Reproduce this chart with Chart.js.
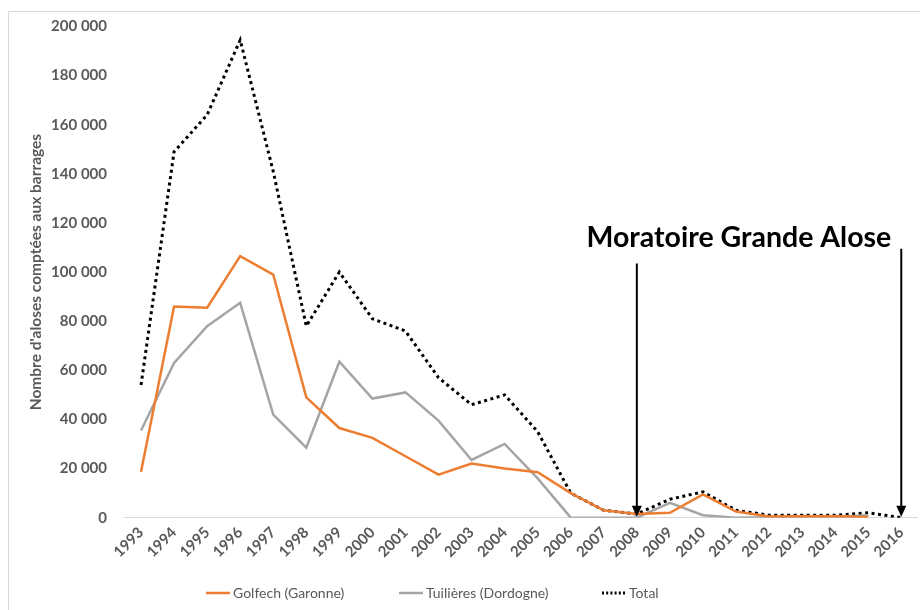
<!DOCTYPE html>
<html><head><meta charset="utf-8">
<script src="https://cdn.jsdelivr.net/npm/chart.js@4/dist/chart.umd.min.js"></script>
<style>
html,body{margin:0;padding:0;background:#fff;}
#wrap{position:absolute;left:0;top:0;width:920px;height:610px;}
#frame{position:absolute;left:8px;top:11px;width:920px;height:610px;border:1px solid #d9d9d9;box-sizing:border-box;}
</style></head>
<body>
<div id="frame"></div>
<div id="wrap"><canvas id="c" width="920" height="610"></canvas></div>
<script>
const years = ['1993','1994','1995','1996','1997','1998','1999','2000','2001','2002','2003','2004','2005','2006','2007','2008','2009','2010','2011','2012','2013','2014','2015','2016'];
const golfech = [18700,86000,85500,106500,99000,49000,36500,32500,25000,17500,22000,20000,18500,10000,3000,1500,2000,9500,2500,500,600,600,300,null];
const tuilieres = [35500,63000,78000,87500,42000,28500,63500,48500,51000,39500,23500,30000,16000,0,0,0,6000,1000,0,200,300,300,1000,null];
const total = [54000,149000,164000,194500,141000,78000,100000,81000,76000,57000,46000,50000,35000,10000,3000,1500,7500,10500,3000,1000,1000,1000,2000,0];
const seriesNames = ['Golfech (Garonne)','Tuilières (Dordogne)','Total'];
const yTicks = [0,20000,40000,60000,80000,100000,120000,140000,160000,180000,200000];
const annotationText = 'Moratoire Grande Alose';
const arrowYears = ['2008','2016'];
const arrowTops = [103500,109500];

const fmt = v => String(v).replace(/\B(?=(\d{3})+(?!\d))/g, '\u202F');
const FONT = "Lato, 'Open Sans', sans-serif";

const annot = {
  id:'annot',
  afterDatasetsDraw(chart){
    const {ctx, scales:{x,y}} = chart;
    ctx.save();
    ctx.strokeStyle='#000'; ctx.fillStyle='#000'; ctx.lineWidth=2;
    let xs=[];
    arrowYears.forEach((yr,i)=>{
      const px = x.getPixelForValue(years.indexOf(yr));
      xs.push(px);
      const top = y.getPixelForValue(arrowTops[i]);
      const bot = y.getPixelForValue(0)-1;
      ctx.beginPath(); ctx.moveTo(px,top); ctx.lineTo(px,bot-8); ctx.stroke();
      ctx.beginPath(); ctx.moveTo(px-5,bot-11); ctx.lineTo(px+5,bot-11); ctx.lineTo(px,bot); ctx.closePath(); ctx.fill();
    });
    ctx.font = "bold 28.5px " + FONT;
    ctx.textAlign='right'; ctx.textBaseline='alphabetic';
    ctx.fillText(annotationText, xs[1]-10, y.getPixelForValue(arrowTops[1])-2);
    ctx.restore();
  }
};

const legendPos = [206, 399, 602];
const customLegend = {
  id:'customLegend',
  afterDraw(chart){
    const {ctx} = chart;
    ctx.save();
    const yy = 593;
    chart.data.datasets.forEach((ds,i)=>{
      const x0 = legendPos[i];
      ctx.strokeStyle = ds.borderColor;
      ctx.lineWidth = ds.borderWidth;
      ctx.setLineDash(ds.borderDash ? [2,2.2] : []);
      ctx.beginPath(); ctx.moveTo(x0,yy); ctx.lineTo(x0+24,yy); ctx.stroke();
      ctx.setLineDash([]);
      ctx.fillStyle='#595959';
      ctx.font = "14px " + FONT;
      ctx.textAlign='left'; ctx.textBaseline='middle';
      ctx.fillText(ds.label, x0+27, yy);
    });
    ctx.restore();
  }
};

new Chart(document.getElementById('c'), {
  type:'line',
  data:{
    labels:years,
    datasets:[
      {label:seriesNames[0], data:golfech, borderColor:'#ED7D31', backgroundColor:'#ED7D31', borderWidth:2.5, pointRadius:0, tension:0},
      {label:seriesNames[1], data:tuilieres, borderColor:'#A5A5A5', backgroundColor:'#A5A5A5', borderWidth:2.5, pointRadius:0, tension:0},
      {label:seriesNames[2], data:total, borderColor:'#000', backgroundColor:'#000', borderWidth:3, borderDash:[3,3.5], pointRadius:0, tension:0}
    ]
  },
  options:{
    responsive:false, animation:false,
    layout:{padding:{left:27,right:0,top:22,bottom:43}},
    plugins:{
      legend:{display:false},
      tooltip:{enabled:false}
    },
    scales:{
      x:{offset:true, grid:{display:false, drawTicks:false}, border:{display:true,color:'#d9d9d9',width:1},
         ticks:{maxRotation:45,minRotation:45,color:'#595959',font:{family:FONT,size:15,weight:'bold'},padding:6}},
      y:{min:0,max:200000, afterBuildTicks:s=>{s.ticks=yTicks.map(v=>({value:v}));},
         afterFit:s=>{s.width=97.5;},
         grid:{display:false,drawTicks:false}, border:{display:false},
         ticks:{callback:v=>fmt(v),color:'#595959',font:{family:FONT,size:15,weight:'bold'},padding:17.5},
         title:{display:true,text:"Nombre d'aloses comptées aux barrages",color:'#595959',font:{family:FONT,size:15.5,weight:'bold'},padding:{top:0,bottom:2}}}
    }
  },
  plugins:[annot, customLegend]
});
</script>
</body></html>
